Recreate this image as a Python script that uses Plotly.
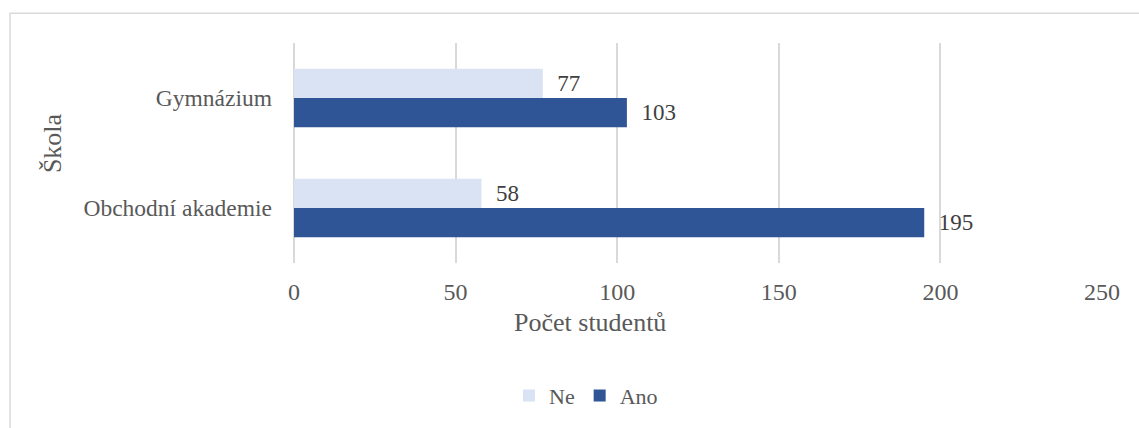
import plotly.graph_objects as go

categories = ["Obchodní akademie", "Gymnázium"]
ne_values = [58, 77]
ano_values = [195, 103]
x_ticks = [0, 50, 100, 150, 200, 250]

FONT = "Liberation Serif, Times New Roman, serif"
W, H = 1139, 428
L, R, T, B = 294, 37, 43, 163
pw, ph = W - L - R, H - T - B

def px(x):
    return (x - L) / pw

def py(y):
    return (H - B - y) / ph

fig = go.Figure()
fig.add_trace(go.Bar(
    y=categories, x=ano_values, name="Ano", orientation="h",
    marker=dict(color="#2F5597", line=dict(width=0)),
    text=ano_values, texttemplate="  %{x}", textposition="outside",
    textfont=dict(family=FONT, size=23, color="#404040"),
    cliponaxis=False, legendrank=2,
))
fig.add_trace(go.Bar(
    y=categories, x=ne_values, name="Ne", orientation="h",
    marker=dict(color="#DAE3F3", line=dict(width=0)),
    text=ne_values, texttemplate="  %{x}", textposition="outside",
    textfont=dict(family=FONT, size=23, color="#404040"),
    cliponaxis=False, legendrank=1,
))

fig.update_layout(
    width=W, height=H,
    margin=dict(l=L, r=R, t=T, b=B),
    paper_bgcolor="white", plot_bgcolor="white",
    barmode="group", bargap=0.47, bargroupgap=0,
    font=dict(family=FONT, color="#595959", size=22),
    showlegend=True,
    legend=dict(orientation="h", x=px(586), xanchor="center", y=py(399), yanchor="middle",
                font=dict(family=FONT, size=22, color="#595959"),
                itemwidth=30, itemsizing="constant", traceorder="normal"),
    xaxis=dict(range=[0, 250], tickvals=x_ticks, showgrid=True, gridcolor="#D9D9D9",
               gridwidth=1.5, zeroline=True, zerolinecolor="#D9D9D9", zerolinewidth=1.5,
               showline=False, ticks="", tickfont=dict(family=FONT, size=24, color="#595959"),
               ticklabelstandoff=12),
    yaxis=dict(showgrid=False, showline=False, ticks="",
               tickfont=dict(family=FONT, size=23.5, color="#595959"),
               ticklabelstandoff=21),
    annotations=[
        dict(text="Počet studentů", x=px(590), y=py(325), xref="paper", yref="paper",
             showarrow=False, font=dict(family=FONT, size=26, color="#595959"),
             xanchor="center", yanchor="middle"),
        dict(text="Škola", x=px(52), y=py(144), xref="paper", yref="paper",
             showarrow=False, textangle=-90, font=dict(family=FONT, size=26, color="#595959"),
             xanchor="center", yanchor="middle"),
    ],
    shapes=[
        dict(type="rect", xref="paper", yref="paper",
             x0=px(10), x1=px(1150), y0=py(440), y1=py(13),
             line=dict(color="#D9D9D9", width=1.5), fillcolor="rgba(0,0,0,0)", layer="below"),
    ],
)

fig.write_html("out.html", config={"displayModeBar": False},
               post_script="document.body.style.margin='0px';")
